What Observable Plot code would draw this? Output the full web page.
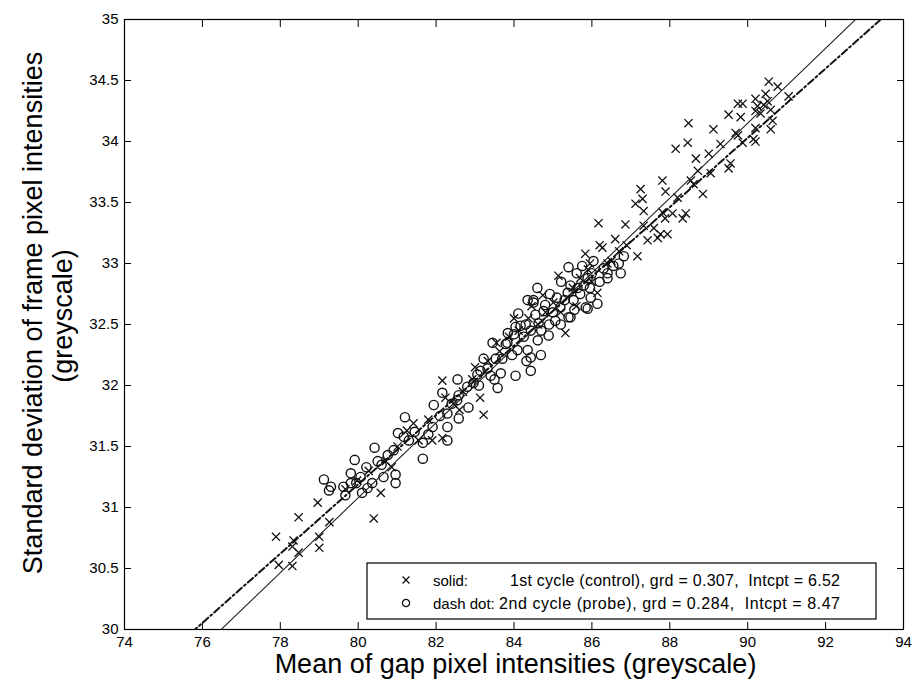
<!DOCTYPE html>
<html><head><meta charset="utf-8">
<script src="https://cdn.jsdelivr.net/npm/d3@7"></script>
<script src="https://cdn.jsdelivr.net/npm/@observablehq/plot@0.6"></script>
<style>body{margin:0;background:#fff}</style>
</head><body><div id="chart"></div>
<script>
const xTicks = [74,76,78,80,82,84,86,88,90,92,94];
const yTicks = [30,30.5,31,31.5,32,32.5,33,33.5,34,34.5,35];

// 1st cycle (control) – crosses
const controlPoints = [
[77.89,30.76],[77.96,30.53],[78.31,30.52],[78.31,30.68],[78.34,30.73],[78.47,30.63],[78.47,30.92],[78.96,31.04],[79.0,30.76],[79.0,30.67],[79.26,30.88],[80.4,30.91],[80.58,31.12],
[79.67,31.15],[79.97,31.22],[80.27,31.3],[80.71,31.38],[80.86,31.33],[81.01,31.5],[81.25,31.63],[81.42,31.69],[81.55,31.55],[81.8,31.72],[82.16,31.57],[82.16,32.04],[82.24,31.9],[82.44,31.85],[82.69,31.95],[83.13,31.9],[83.22,31.76],[82.93,32.05],[83.33,32.2],[83.63,32.28],[83.87,32.4],[84.12,32.45],[84.37,32.55],[84.74,32.74],[84.62,32.5],[84.81,32.6],[85.01,32.68],[85.14,32.9],[85.32,32.43],[85.51,32.8],[85.7,32.88],[85.83,33.08],[85.9,32.95],[86.14,32.76],[86.0,32.85],[86.2,33.15],[86.17,33.33],[86.27,33.13],[86.4,33.0],[86.5,33.02],[86.7,33.1],[86.89,33.15],[86.86,33.32],
[84.0,32.55],[84.45,32.65],[85.2,32.6],[85.6,32.65],[85.95,33.0],[86.6,33.2],[83.55,32.35],[83.0,32.15],[82.6,31.8],[81.9,31.55],
[87.17,33.06],[87.43,33.19],[87.69,33.21],[87.76,33.24],[87.94,33.24],[87.59,33.29],[87.33,33.31],[87.33,33.43],[87.12,33.49],[87.3,33.53],[87.25,33.61],[87.81,33.42],[88.07,33.41],[88.41,33.41],[88.33,33.37],[87.88,33.37],[87.89,33.59],[87.81,33.68],[88.2,33.54],[88.54,33.68],[88.61,33.65],[88.85,33.57],[88.72,33.76],[89.05,33.74],[88.67,33.86],[89.0,33.9],[89.3,33.98],[89.56,33.82],[89.51,33.78],[88.15,33.94],[88.46,33.99],[88.48,34.15],[89.12,34.1],[89.69,34.07],[89.75,34.05],[89.87,33.99],[90.2,34.0],[90.15,34.02],[90.2,34.11],[90.59,34.1],[90.64,34.17],[89.82,34.2],[89.51,34.22],[89.75,34.31],[89.87,34.31],[90.2,34.25],[90.33,34.23],[90.25,34.29],[90.51,34.33],[90.46,34.39],[90.2,34.35],[90.59,34.26],[90.54,34.49],[90.77,34.45],[91.05,34.37],[90.41,34.3]
];

// 2nd cycle (probe) – circles
const probePoints = [
[79.12,31.23],[79.3,31.17],[79.25,31.14],[79.62,31.17],[79.81,31.2],[79.81,31.28],[79.91,31.39],[80.06,31.25],[80.21,31.33],[80.24,31.16],[80.42,31.49],[80.65,31.25],[80.76,31.43],[80.91,31.47],[80.96,31.27],[80.96,31.2],[81.02,31.61],[81.17,31.58],[81.2,31.74],[81.3,31.55],[79.67,31.1],[80.36,31.2],
[81.66,31.4],[81.66,31.53],[81.91,31.66],[81.94,31.84],[82.29,31.55],[82.29,31.66],[82.29,31.77],[82.58,31.73],[82.83,31.82],[82.54,31.88],[82.58,31.92],[82.16,31.94],[82.8,31.99],[82.96,32.02],[82.55,32.05],[83.06,32.09],[83.14,32.12],[83.32,32.14],[83.4,32.08],[83.58,31.98],[83.66,32.1],[83.22,32.22],[83.53,32.22],[83.45,32.35],[83.79,32.34],[83.84,32.43],[84.04,32.08],[84.43,32.12],[84.32,32.2],[84.69,32.25],[84.35,32.29],[84.09,32.29],[84.43,32.23],[84.61,32.37],[84.17,32.49],[84.11,32.59],[84.5,32.68],[83.83,32.35],[84.04,32.48],[84.43,32.45],[84.89,32.41],[84.63,32.51],[85.06,32.53],[85.4,32.56],[84.76,32.61],[85.19,32.64],[85.53,32.7],[85.97,32.72],[84.5,32.7],[85.84,32.64],[86.14,32.67],[85.38,32.76],[85.63,32.8],[85.79,32.82],[85.89,32.88],[86.4,32.88],[85.4,32.97],[86.04,33.02],[86.69,33.0],[86.82,33.06],[86.74,32.92],[86.4,32.92],[85.89,32.63],[85.45,32.56],[85.61,32.92],[84.92,32.75],[85.21,32.85],
[84.3,32.5],[84.55,32.58],[84.8,32.66],[85.0,32.6],[85.1,32.72],[85.3,32.7],[85.45,32.82],[85.7,32.75],[85.95,32.8],[86.2,32.85],[86.3,32.96],[86.0,32.92],[85.75,32.98],[85.2,32.5],[84.9,32.5],[84.7,32.45],[84.25,32.4],[84.0,32.42],[83.7,32.22],[83.95,32.25],[83.1,32.0],[83.5,32.05],[82.4,31.85],[82.1,31.75],[81.8,31.6],[81.45,31.62],[80.6,31.35],[80.1,31.12],[79.95,31.2],[80.5,31.38],[84.6,32.8],[84.35,32.7],[85.55,32.62],[86.55,32.98]
];

// fit lines (from legend)
const fitStyles = ["solid:", "dash dot:"];
const fitCycles = ["1st cycle (control)", "2nd cycle (probe)"];
const fitGrd = [0.307, 0.284];
const fitIntcpt = [6.52, 8.47];

const xLabel = "Mean of gap pixel intensities (greyscale)";
const yLabel = ["Standard deviation of frame pixel intensities", "(greyscale)"];

const xDom = [xTicks[0], xTicks[xTicks.length-1]];
const yDom = [yTicks[0], yTicks[yTicks.length-1]];
const fitLine = i => xDom.map(x => ({x, y: fitGrd[i]*x + fitIntcpt[i]}));

const FONT = "Liberation Sans, Arial, sans-serif";
const INK = "#111";

const plot = Plot.plot({
  width: 915, height: 685,
  marginLeft: 124, marginRight: 12, marginTop: 19, marginBottom: 56,
  style: {fontFamily: FONT, fontSize: "15px", color: "#000", background: "#fff"},
  x: {domain: xDom, label: null},
  y: {domain: yDom, label: null},
  marks: [
    Plot.dot(controlPoints, {x: d => d[0], y: d => d[1], symbol: "times", r: 3.8, stroke: INK, strokeWidth: 1.3}),
    Plot.dot(probePoints, {x: d => d[0], y: d => d[1], symbol: "circle", r: 4.6, fill: "none", stroke: INK, strokeWidth: 1.4}),
    Plot.line(fitLine(0), {x: "x", y: "y", stroke: "#222", strokeWidth: 1.1, clip: true}),
    Plot.line(fitLine(1), {x: "x", y: "y", stroke: "#111", strokeWidth: 2, strokeDasharray: "7,3,2,3", clip: true}),
    Plot.frame({stroke: "#000", strokeWidth: 1.2}),
    Plot.axisX({ticks: xTicks, tickSize: 0, tickPadding: 7, tickFormat: d => String(d), label: null, fontSize: 15}),
    Plot.axisX({ticks: xTicks, anchor: "bottom", tickSize: 7, dy: -7, tickFormat: () => "", label: null}),
    Plot.axisX({ticks: xTicks, anchor: "top", tickSize: 7, dy: 7, tickFormat: () => "", label: null}),
    Plot.axisY({ticks: yTicks, tickSize: 0, tickPadding: 6, tickFormat: d => String(d), label: null, fontSize: 15}),
    Plot.axisY({ticks: yTicks, anchor: "left", tickSize: 7, dx: 7, tickFormat: () => "", label: null}),
    Plot.axisY({ticks: yTicks, anchor: "right", tickSize: 7, dx: -7, tickFormat: () => "", label: null})
  ]
});

document.getElementById("chart").appendChild(plot);

const svg = d3.select(plot);
const [x0, x1] = plot.scale("x").range;

svg.append("text")
  .attr("x", (x0 + x1) / 2 + 2).attr("y", 673)
  .attr("text-anchor", "middle")
  .style("font-family", FONT).style("font-size", "27px").attr("fill", "#000")
  .text(xLabel);

[[42, 313], [72, 316]].forEach(([bx, by], i) => {
  svg.append("text")
    .attr("transform", `translate(${bx},${by}) rotate(-90)`)
    .attr("text-anchor", "middle")
    .style("font-family", FONT).style("font-size", "27px").attr("fill", "#000")
    .text(yLabel[i]);
});

// legend box
const lg = svg.append("g");
lg.append("rect").attr("x", 367).attr("y", 563).attr("width", 509).attr("height", 56)
  .attr("fill", "#fff").attr("stroke", "#000").attr("stroke-width", 1.2);
const symbols = [d3.symbolTimes, d3.symbolCircle];
const symR = [3.2, 3.6];
const textX = [510, 499];
const textLen = [330, 341];
[580, 603].forEach((cy, i) => {
  lg.append("path")
    .attr("transform", `translate(406,${cy})`)
    .attr("d", d3.symbol(symbols[i], Math.PI * symR[i] * symR[i])())
    .attr("fill", "none").attr("stroke", INK).attr("stroke-width", 1.3);
  lg.append("text").attr("x", 433).attr("y", cy + 6)
    .attr("text-anchor", "start")
    .style("font-family", FONT).style("font-size", "15px").attr("fill", "#000")
    .text(fitStyles[i]);
  lg.append("text").attr("x", textX[i]).attr("y", cy + 6)
    .attr("text-anchor", "start")
    .attr("textLength", textLen[i])
    .style("font-family", FONT).style("font-size", "16px").style("white-space", "pre").attr("fill", "#000")
    .text(`${fitCycles[i]}, grd = ${fitGrd[i]},  Intcpt = ${fitIntcpt[i]}`);
});
</script>
</body></html>
